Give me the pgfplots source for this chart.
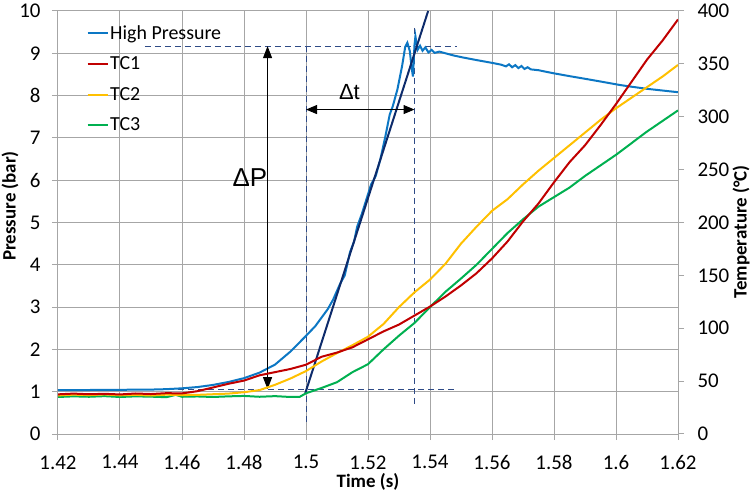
\documentclass[border=0pt]{standalone}
\usepackage{fontspec}
\setmainfont{Carlito}
\newfontfamily\arialfont{Liberation Sans}
\usepackage{pgfplots}
\pgfplotsset{compat=1.18}
\usetikzlibrary{arrows.meta}

\definecolor{hpblue}{HTML}{0C77C4}
\definecolor{tcred}{HTML}{C00000}
\definecolor{tcyellow}{HTML}{FFC000}
\definecolor{tcgreen}{HTML}{00B050}
\definecolor{navy}{HTML}{0D2B6B}
\definecolor{dashblue}{HTML}{2E4A86}
\definecolor{gridgray}{HTML}{A6A6A6}

% pressure trace (bar)
\pgfplotstableread{
t p
1.420 1.04
1.430 1.04
1.440 1.045
1.450 1.05
1.455 1.06
1.460 1.08
1.465 1.11
1.470 1.16
1.475 1.23
1.480 1.32
1.485 1.45
1.490 1.64
1.495 1.95
1.500 2.32
1.503 2.55
1.5045 2.70
1.507 2.95
1.5087 3.17
1.511 3.55
1.5125 3.75
1.5142 4.30
1.5155 4.55
1.5165 4.90
1.518 5.20
1.5195 5.55
1.521 5.90
1.5225 6.10
1.524 6.50
1.5255 7.00
1.527 7.55
1.528 7.75
1.5295 8.15
1.531 8.70
1.532 9.15
1.5327 9.25
1.5335 9.05
1.534 8.70
1.5345 8.45
1.5350 9.20
1.5353 9.40
1.5360 9.08
1.5368 9.18
1.5376 9.06
1.5385 9.14
1.5395 9.02
1.5405 9.08
1.5415 9.01
1.543 9.04
1.545 9.00
1.5475 8.95
1.5507 8.90
1.555 8.84
1.5603 8.77
1.563 8.73
1.5645 8.69
1.5655 8.74
1.5665 8.67
1.5675 8.72
1.5685 8.65
1.5695 8.70
1.5705 8.63
1.5715 8.67
1.5725 8.62
1.575 8.60
1.5797 8.53
1.585 8.46
1.5906 8.39
1.596 8.32
1.6013 8.25
1.605 8.21
1.610 8.16
1.615 8.12
1.620 8.08
}\pressure

% thermocouple traces (deg C)
\pgfplotstableread{
t T
1.420 37.5
1.425 38.2
1.430 37.6
1.435 38.0
1.440 37.4
1.445 38.3
1.450 37.8
1.455 38.6
1.460 38.4
1.465 40.5
1.470 44.0
1.475 47.5
1.480 50.5
1.485 55.5
1.490 58.5
1.495 61.5
1.500 65.5
1.505 73.0
1.510 77.0
1.515 82.0
1.520 89.5
1.525 97.0
1.530 103.5
1.535 112.0
1.540 120.5
1.545 130.0
1.550 140.5
1.555 152.0
1.560 166.0
1.565 182.0
1.570 201.0
1.575 218.0
1.580 238.0
1.585 257.0
1.590 273.0
1.595 292.0
1.600 312.0
1.605 333.0
1.610 354.0
1.615 372.0
1.620 392.0
}\tcone

\pgfplotstableread{
t T
1.420 36.5
1.425 37.2
1.430 36.8
1.435 37.4
1.440 36.6
1.445 37.0
1.450 36.4
1.455 37.2
1.460 36.8
1.465 37.0
1.470 37.6
1.475 38.2
1.480 39.5
1.485 41.5
1.490 46.5
1.495 52.5
1.500 59.5
1.505 68.5
1.510 76.5
1.515 84.0
1.520 92.0
1.525 104.0
1.530 120.0
1.535 134.0
1.540 146.0
1.545 161.0
1.550 180.0
1.555 196.0
1.560 211.0
1.565 222.0
1.570 236.0
1.575 249.0
1.580 261.0
1.585 273.0
1.590 285.0
1.595 297.0
1.600 308.0
1.605 318.0
1.610 328.0
1.615 338.0
1.620 349.0
}\tctwo

\pgfplotstableread{
t T
1.420 35.0
1.425 35.6
1.430 35.2
1.435 35.8
1.440 35.0
1.445 35.6
1.450 35.3
1.455 34.8
1.458 37.0
1.460 35.2
1.465 35.5
1.470 35.0
1.475 35.6
1.480 36.0
1.485 35.2
1.490 35.8
1.495 35.0
1.498 35.2
1.500 38.5
1.505 43.5
1.510 49.0
1.515 58.5
1.520 66.0
1.525 80.0
1.530 93.0
1.535 105.0
1.540 120.0
1.545 134.5
1.550 147.0
1.555 160.0
1.560 175.0
1.565 190.0
1.570 203.0
1.575 215.0
1.580 224.0
1.585 233.0
1.590 244.0
1.595 254.0
1.600 264.0
1.605 275.0
1.610 286.0
1.615 296.0
1.620 306.0
}\tcthree

\pgfplotsset{
  base/.style={
    width=620bp, height=423bp, scale only axis,
    xmin=1.42, xmax=1.62,
    tick align=outside, major tick length=6bp,
    tick style={gridgray, line width=1bp},
    axis line style={gridgray, line width=1bp},
    ticklabel style={font=\fontsize{21}{25}\selectfont},
    /pgf/number format/assume math mode=true,
    clip mode=individual,
  },
}

\begin{document}
\begin{tikzpicture}
\begin{axis}[base, name=ax,
    ymin=0, ymax=10,
    xtick={1.42,1.44,1.46,1.48,1.5,1.52,1.54,1.56,1.58,1.6,1.62},
    xticklabels={1.42,1.44,1.46,1.48,1.5,1.52,1.54,1.56,1.58,1.6,1.62},
    ytick={0,1,2,3,4,5,6,7,8,9,10},
    xtick pos=left, ytick pos=left,
    xticklabel style={yshift=-12bp},
    yticklabel style={xshift=-8bp},
    grid=major, grid style={gridgray, line width=1bp},
    legend style={at={(0.046,0.968)}, anchor=north west, draw=none, fill=none,
      inner sep=0pt, row sep=14bp, font=\fontsize{20}{24}\selectfont,
      nodes={inner xsep=1.5bp, inner ysep=1bp}},
    legend cell align=left,
    legend image code/.code={\draw[#1] (0bp,0bp) -- (20bp,0bp);},
  ]
  % guide lines for the rise time and pressure jump
  \draw[dashblue, line width=0.9bp, dash pattern=on 6bp off 4bp]
    (axis cs:1.448,9.17) -- (axis cs:1.5487,9.17);
  \draw[dashblue, line width=0.9bp, dash pattern=on 6bp off 4bp]
    (axis cs:1.42,1.06) -- (axis cs:1.549,1.06);
  \draw[dashblue, line width=0.9bp, dash pattern=on 6bp off 4bp]
    (axis cs:1.5,9.17) -- (axis cs:1.5,0.22);
  \draw[dashblue, line width=0.9bp, dash pattern=on 6bp off 4bp]
    (axis cs:1.535,9.6) -- (axis cs:1.535,0.64);

  \addplot[hpblue, line width=2bp] table[x=t, y=p] {\pressure};
  \addlegendentry{High Pressure}
  \addlegendimage{tcred, line width=2bp}
  \addlegendentry{TC1}
  \addlegendimage{tcyellow, line width=2bp}
  \addlegendentry{TC2}
  \addlegendimage{tcgreen, line width=2bp}
  \addlegendentry{TC3}

  % tangent to the pressure rise
  \addplot[navy, line width=2bp, forget plot] coordinates {(1.4997,0.95) (1.5394,10)};

  % annotation arrows
  \draw[black, line width=1bp, {Triangle[length=12bp,width=9bp]}-{Triangle[length=12bp,width=9bp]}]
    (axis cs:1.4876,1.06) -- (axis cs:1.4876,9.17);
  \draw[black, line width=1bp, {Triangle[length=11bp,width=9bp]}-{Triangle[length=11bp,width=9bp]}]
    (axis cs:1.5,7.67) -- (axis cs:1.535,7.67);
  \node[anchor=base, font=\arialfont\fontsize{26}{30}\selectfont, inner sep=0pt]
    at (axis cs:1.4819,5.86) {ΔP};
  \node[anchor=base, font=\arialfont\fontsize{22}{26}\selectfont, inner sep=0pt]
    at (axis cs:1.514,7.9) {Δt};

  \node[rotate=90, font=\bfseries\fontsize{19}{23}\selectfont]
    at (axis description cs:-0.0774,0.539) {Pressure (bar)};
  \node[rotate=90, font=\bfseries\fontsize{19}{23}\selectfont]
    at (axis description cs:1.1016,0.478) {Temperature (°C)};
  \node[font=\bfseries\fontsize{19}{23}\selectfont]
    at (axis description cs:0.5,-0.1135) {Time (s)};
\end{axis}

\begin{axis}[base,
    ymin=0, ymax=400,
    axis y line*=right, axis x line=none,
    ytick={0,50,100,150,200,250,300,350,400},
    yticklabel style={xshift=10bp},
  ]
  \addplot[tcgreen, line width=2bp] table[x=t, y=T] {\tcthree};
  \addplot[tcyellow, line width=2bp] table[x=t, y=T] {\tctwo};
  \addplot[tcred, line width=2bp] table[x=t, y=T] {\tcone};
\end{axis}

\pgfresetboundingbox
\path ([shift={(-58bp,-60bp)}]ax.south west) rectangle ([shift={(74bp,11bp)}]ax.north east);
\end{tikzpicture}
\end{document}
